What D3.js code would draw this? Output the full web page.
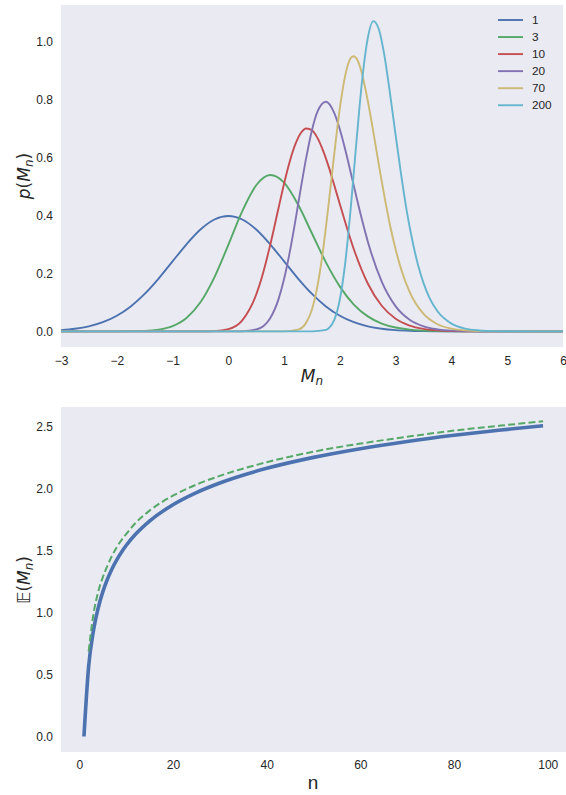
<!DOCTYPE html>
<html>
<head>
<meta charset="utf-8">
<script src="https://cdn.jsdelivr.net/npm/d3@7"></script>
<style>
  body { margin: 0; background: #fff; }
  svg text { font-family: "Liberation Sans", Arial, sans-serif; fill: #262626; }
</style>
</head>
<body>
<div id="chart"></div>
<script>
// top panel: density of the max M_n of n normals
const seriesN = [1, 3, 10, 20, 70, 200];
const seriesColors = ['#4C72B0', '#55A868', '#C44E52', '#8172B2', '#CCB974', '#64B5CD'];

const m1 = [-3, -2.75, -2.5, -2.25, -2, -1.75, -1.5, -1.25, -1, -0.75, -0.5, -0.25, 0, 0.25, 0.5, 0.75, 1, 1.25, 1.5, 1.75, 2, 2.25, 2.5, 2.75, 3, 3.25, 3.5, 3.75, 4, 4.5, 5, 6];
const p1 = [0.0044, 0.0091, 0.0175, 0.0317, 0.054, 0.0863, 0.1295, 0.1826, 0.242, 0.3011, 0.3521, 0.3867, 0.3989, 0.3867, 0.3521, 0.3011, 0.242, 0.1826, 0.1295, 0.0863, 0.054, 0.0317, 0.0175, 0.0091, 0.0044, 0.002, 0.0009, 0.0004, 0.0001, 0, 0, 0];

const m3 = [-3, -2, -1.5, -1.25, -1, -0.75, -0.5, -0.25, 0, 0.25, 0.5, 0.75, 1, 1.25, 1.5, 1.75, 2, 2.25, 2.5, 2.75, 3, 3.25, 3.5, 3.75, 4, 4.5, 5, 6];
const p3 = [0, 0.0001, 0.0017, 0.0061, 0.0183, 0.0464, 0.1005, 0.1868, 0.2992, 0.4158, 0.5051, 0.5404, 0.5139, 0.4383, 0.3383, 0.2385, 0.1547, 0.0928, 0.0518, 0.0271, 0.0133, 0.0061, 0.0026, 0.0011, 0.0004, 0.0001, 0, 0];

const m10 = [-3, -1, -0.5, -0.25, 0, 0.25, 0.5, 0.6, 0.75, 0.9, 1, 1.1, 1.2, 1.3, 1.4, 1.5, 1.6, 1.7, 1.8, 1.9, 2, 2.25, 2.5, 2.75, 3, 3.25, 3.5, 3.75, 4, 4.5, 5, 6];
const p10 = [0, 0, 0.0001, 0.001, 0.0078, 0.0382, 0.1273, 0.1861, 0.2981, 0.4263, 0.5111, 0.5864, 0.6461, 0.6856, 0.7013, 0.6952, 0.6679, 0.6239, 0.5686, 0.5047, 0.439, 0.2838, 0.1655, 0.0885, 0.0438, 0.0202, 0.0087, 0.0035, 0.0013, 0.0002, 0, 0];

const m20 = [-3, 0, 0.25, 0.5, 0.75, 0.9, 1, 1.1, 1.2, 1.3, 1.4, 1.5, 1.6, 1.75, 1.9, 2, 2.1, 2.2, 2.3, 2.4, 2.5, 2.75, 3, 3.25, 3.5, 3.75, 4, 4.5, 5, 6];
const p20 = [0, 0, 0.0005, 0.0064, 0.0457, 0.1114, 0.1816, 0.2728, 0.3803, 0.4953, 0.604, 0.6962, 0.76, 0.7935, 0.7543, 0.6975, 0.6249, 0.5441, 0.4617, 0.383, 0.3109, 0.1718, 0.0864, 0.0402, 0.0174, 0.0071, 0.0027, 0.0003, 0, 0];

const m70 = [-3, 1, 1.25, 1.4, 1.5, 1.6, 1.7, 1.8, 1.9, 2, 2.1, 2.2, 2.25, 2.3, 2.4, 2.5, 2.6, 2.7, 2.8, 2.9, 3, 3.1, 3.25, 3.5, 3.75, 4, 4.25, 4.5, 5, 5.5, 6];
const p70 = [0, 0.0001, 0.0058, 0.0313, 0.0768, 0.1589, 0.2832, 0.4435, 0.6149, 0.7726, 0.8883, 0.9458, 0.9509, 0.9428, 0.888, 0.797, 0.6887, 0.5739, 0.4646, 0.366, 0.2825, 0.2141, 0.1365, 0.0601, 0.0246, 0.0094, 0.0033, 0.0011, 0.0001, 0, 0];

const m200 = [-3, 1, 1.5, 1.75, 1.8, 1.9, 2, 2.1, 2.2, 2.3, 2.4, 2.5, 2.6, 2.7, 2.8, 2.9, 3, 3.1, 3.2, 3.3, 3.4, 3.5, 3.6, 3.75, 4, 4.25, 4.5, 4.75, 5, 5.5, 6];
const p200 = [0, 0, 0, 0.0051, 0.011, 0.0398, 0.1109, 0.2438, 0.438, 0.663, 0.8696, 1.0133, 1.0721, 1.0435, 0.9512, 0.82, 0.6773, 0.539, 0.415, 0.313, 0.2304, 0.1667, 0.1186, 0.0694, 0.0268, 0.0096, 0.0032, 0.001, 0.0003, 0, 0];

// bottom panel: expected maximum against n
const nExact = [1, 2, 3, 4, 5, 6, 7, 8, 9, 10, 12, 15, 20, 25, 30, 40, 50, 60, 70, 80, 90, 99];
const meanExact = [0, 0.5642, 0.8463, 1.0294, 1.163, 1.2672, 1.3522, 1.4236, 1.485, 1.5388, 1.6292, 1.7359, 1.8675, 1.9653, 2.0427, 2.1608, 2.2491, 2.3193, 2.3774, 2.4268, 2.4697, 2.504];
const nApprox = [2, 3, 4, 5, 6, 8, 10, 12, 15, 20, 25, 30, 40, 50, 60, 70, 80, 90, 99];
const meanApprox = [0.685, 0.98, 1.16, 1.28, 1.375, 1.525, 1.63, 1.72, 1.82, 1.94, 2.03, 2.1, 2.21, 2.295, 2.36, 2.415, 2.465, 2.505, 2.54];

const topX = [-3, -2, -1, 0, 1, 2, 3, 4, 5, 6];
const topY = [0, 0.2, 0.4, 0.6, 0.8, 1.0];
const botX = [0, 20, 40, 60, 80, 100];
const botY = [0, 0.5, 1.0, 1.5, 2.0, 2.5];

const densities = [
  { n: seriesN[0], xs: m1, ys: p1 },
  { n: seriesN[1], xs: m3, ys: p3 },
  { n: seriesN[2], xs: m10, ys: p10 },
  { n: seriesN[3], xs: m20, ys: p20 },
  { n: seriesN[4], xs: m70, ys: p70 },
  { n: seriesN[5], xs: m200, ys: p200 },
];

const W = 566, H = 795;
const bg = '#EAEAF2';

const svg = d3.select('#chart')
  .append('svg')
  .attr('width', W)
  .attr('height', H);

// math style label: prefix ( M_n )
function mathLabel(g, prefix, prefixItalic) {
  const t = g.append('text')
    .style('font-family', '"DejaVu Sans", sans-serif')
    .style('font-size', '17px');
  t.append('tspan').style('font-style', prefixItalic ? 'italic' : 'normal').text(prefix);
  t.append('tspan').text('(');
  t.append('tspan').style('font-style', 'italic').text('M');
  t.append('tspan').style('font-style', 'italic').style('font-size', '12px').attr('dy', 3).text('n');
  t.append('tspan').attr('dy', -3).text(')');
  return t;
}

// ---------- top panel ----------
const xTop = d3.scaleLinear().domain([-3, 6]).range([61, 563]);
const yTop = d3.scaleLinear().domain([-0.054, 1.128]).range([347, 5]);

const topG = svg.append('g');

topG.append('rect')
  .attr('x', 61)
  .attr('y', 5)
  .attr('width', 563 - 61)
  .attr('height', 347 - 5)
  .attr('fill', bg);

topG.append('g')
  .attr('transform', 'translate(0,347)')
  .call(d3.axisBottom(xTop).tickValues(topX).tickSize(0).tickPadding(9.3).tickFormat(d3.format('d')))
  .call(g => g.select('.domain').remove())
  .selectAll('text')
  .style('font-size', '12px')
  .attr('fill', '#262626');

topG.append('g')
  .attr('transform', 'translate(61,0)')
  .call(d3.axisLeft(yTop).tickValues(topY).tickSize(0).tickPadding(8).tickFormat(d3.format('.1f')))
  .call(g => g.select('.domain').remove())
  .selectAll('text')
  .style('font-size', '12px')
  .attr('fill', '#262626');

svg.append('clipPath').attr('id', 'clipTop')
  .append('rect').attr('x', 61).attr('y', 5).attr('width', 502).attr('height', 342);

const lineTop = d3.line()
  .x(d => xTop(d[0]))
  .y(d => yTop(d[1]))
  .curve(d3.curveMonotoneX);

topG.append('g')
  .attr('clip-path', 'url(#clipTop)')
  .selectAll('path')
  .data(densities)
  .enter()
  .append('path')
  .attr('fill', 'none')
  .attr('stroke', (d, i) => seriesColors[i])
  .attr('stroke-width', 1.9)
  .attr('stroke-linejoin', 'round')
  .attr('d', d => lineTop(d.xs.map((v, i) => [v, d.ys[i]])));

// legend
const legend = topG.append('g').attr('transform', 'translate(498,20)');
const legendItem = legend.selectAll('g')
  .data(seriesN)
  .enter()
  .append('g')
  .attr('transform', (d, i) => `translate(0,${i * 17.05})`);

legendItem.append('line')
  .attr('x1', 0)
  .attr('x2', 25)
  .attr('stroke', (d, i) => seriesColors[i])
  .attr('stroke-width', 1.9);

legendItem.append('text')
  .attr('x', 34)
  .attr('dy', '0.35em')
  .style('font-size', '11.8px')
  .text(d => d);

// axis labels
const xlabTop = topG.append('text')
  .attr('x', 312)
  .attr('y', 382)
  .attr('text-anchor', 'middle')
  .style('font-family', '"DejaVu Sans", sans-serif')
  .style('font-size', '17px');
xlabTop.append('tspan').style('font-style', 'italic').text('M');
xlabTop.append('tspan').style('font-style', 'italic').style('font-size', '12px').attr('dy', 3).text('n');

mathLabel(topG, 'p', true)
  .attr('text-anchor', 'middle')
  .attr('transform', 'translate(30,176) rotate(-90)');

// ---------- bottom panel ----------
const xBot = d3.scaleLinear().domain([-3.9, 103.9]).range([61, 566]);
const yBot = d3.scaleLinear().domain([-0.125, 2.655]).range([752, 407]);

const botG = svg.append('g');

botG.append('rect')
  .attr('x', 61)
  .attr('y', 407)
  .attr('width', 566 - 61)
  .attr('height', 752 - 407)
  .attr('fill', bg);

botG.append('g')
  .attr('transform', 'translate(0,752)')
  .call(d3.axisBottom(xBot).tickValues(botX).tickSize(0).tickPadding(8.8).tickFormat(d3.format('d')))
  .call(g => g.select('.domain').remove())
  .selectAll('text')
  .style('font-size', '12px')
  .attr('fill', '#262626');

botG.append('g')
  .attr('transform', 'translate(61,0)')
  .call(d3.axisLeft(yBot).tickValues(botY).tickSize(0).tickPadding(8).tickFormat(d3.format('.1f')))
  .call(g => g.select('.domain').remove())
  .selectAll('text')
  .style('font-size', '12px')
  .attr('fill', '#262626');

const lineBot = d3.line()
  .x(d => xBot(d[0]))
  .y(d => yBot(d[1]))
  .curve(d3.curveMonotoneX);

// exact expectation, thick solid
botG.append('path')
  .datum(nExact.map((v, i) => [v, meanExact[i]]))
  .attr('fill', 'none')
  .attr('stroke', '#4C72B0')
  .attr('stroke-width', 3.6)
  .attr('stroke-linejoin', 'round')
  .attr('d', lineBot);

// approximation, dashed
botG.append('path')
  .datum(nApprox.map((v, i) => [v, meanApprox[i]]))
  .attr('fill', 'none')
  .attr('stroke', '#55A868')
  .attr('stroke-width', 2)
  .attr('stroke-dasharray', '7,3.2')
  .attr('d', lineBot);

botG.append('text')
  .attr('x', 313)
  .attr('y', 789)
  .attr('text-anchor', 'middle')
  .style('font-size', '19px')
  .text('n');

mathLabel(botG, '\u{1D53C}', false)
  .attr('text-anchor', 'middle')
  .attr('transform', 'translate(30,580) rotate(-90)');
</script>
</body>
</html>
